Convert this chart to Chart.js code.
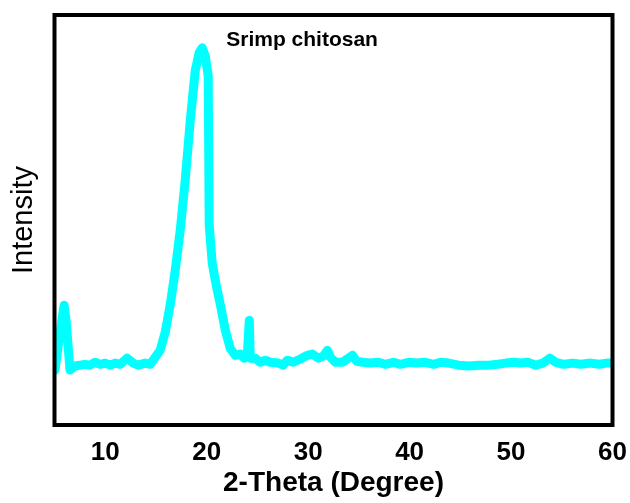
<!DOCTYPE html>
<html>
<head>
<meta charset="utf-8">
<script src="https://cdn.jsdelivr.net/npm/chart.js@4.4.1/dist/chart.umd.min.js"></script>
<style>
  html, body { margin: 0; padding: 0; background: #fff; }
  #wrap { width: 630px; height: 503px; }
</style>
</head>
<body>
<div id="wrap"><canvas id="xrd"></canvas></div>
<script>
// XRD pattern (intensity in arbitrary units, 0-100)
const twoTheta = [5.05, 5.44, 5.94, 6.14, 6.53, 7.02, 7.52, 8.01, 8.5, 9.0, 9.49, 9.99, 10.48, 10.97, 11.47,
    12.16, 12.75, 13.24, 13.93, 14.43, 14.92, 15.41, 15.91, 16.4, 16.9, 17.39, 17.88, 18.38, 18.87, 19.26,
    19.56, 19.86, 20.15, 20.25, 20.55, 20.94, 21.36, 21.84, 22.32, 22.82, 23.31, 23.7, 24.0, 24.2, 24.3,
    24.79, 25.28, 25.78, 26.27, 27.06, 27.55, 27.95, 28.54, 29.23, 29.92, 30.42, 31.0, 31.5, 31.9, 32.2,
    32.69, 33.38, 33.97, 34.37, 34.76, 35.36, 36.14, 36.93, 37.62, 38.41, 39.1, 39.9, 40.68, 41.57, 42.37,
    43.06, 43.85, 44.83, 45.82, 46.81, 47.8, 48.69, 49.48, 50.27, 50.96, 51.65, 52.45, 53.14, 53.83, 54.41,
    55.2, 56.09, 56.88, 57.86, 58.65, 59.44, 59.94];
const intensity = [13.4, 20.7, 29.2, 25.5, 13.4, 14.4, 14.6, 14.8, 14.6, 15.3, 14.8, 15.1, 14.6, 15.1, 14.8,
    16.3, 15.1, 14.6, 15.1, 14.8, 16.5, 18.2, 22.6, 29.2, 37.7, 47.4, 59.6, 74.2, 86.4, 90.8,
    92.0, 90.0, 85.2, 48.7, 39.4, 34.1, 29.2, 23.1, 18.7, 17.0, 17.3, 16.3, 16.8, 25.5, 16.3,
    16.3, 15.3, 15.8, 15.3, 15.1, 14.6, 15.8, 15.3, 16.1, 17.0, 17.3, 16.3, 16.8, 18.2, 16.5,
    15.3, 15.3, 16.3, 17.0, 15.6, 15.3, 15.1, 15.3, 14.8, 15.3, 14.8, 15.3, 15.1, 15.3, 14.8,
    15.3, 15.1, 14.6, 14.4, 14.6, 14.6, 14.8, 15.1, 15.3, 15.1, 15.3, 14.6, 15.1, 16.3, 15.3,
    14.8, 15.1, 14.8, 15.1, 14.8, 15.1, 15.1];
const xTicks = [10, 20, 30, 40, 50, 60];
const sampleLabel = 'Srimp chitosan';
const sampleLabelAt = [29.4, 93.9];

const FONT = "'Liberation Sans', Arial, sans-serif";

// black box round the plot area + the sample name
const framePlugin = {
    id: 'frame',
    afterDatasetsDraw(chart) {
        const { ctx, chartArea: a, scales } = chart;
        ctx.save();
        ctx.strokeStyle = '#000';
        ctx.lineWidth = 4;
        ctx.strokeRect(a.left, a.top, a.right - a.left, a.bottom - a.top);
        ctx.fillStyle = '#000';
        ctx.font = 'bold 21px ' + FONT;
        ctx.textAlign = 'center';
        ctx.textBaseline = 'middle';
        ctx.fillText(sampleLabel, scales.x.getPixelForValue(sampleLabelAt[0]), scales.y.getPixelForValue(sampleLabelAt[1]));
        ctx.restore();
    }
};

new Chart(document.getElementById('xrd'), {
    type: 'line',
    data: {
        datasets: [{
            label: sampleLabel,
            data: twoTheta.map((t, i) => ({ x: t, y: intensity[i] })),
            borderColor: '#00ffff',
            borderWidth: 9,
            borderJoinStyle: 'round',
            borderCapStyle: 'round',
            pointRadius: 0,
            tension: 0,
            fill: false
        }]
    },
    options: {
        responsive: true,
        maintainAspectRatio: false,
        animation: false,
        layout: { padding: { top: 15, right: 17.5, left: 0, bottom: 0 } },
        plugins: {
            legend: { display: false },
            tooltip: { enabled: false }
        },
        scales: {
            x: {
                type: 'linear',
                min: 5,
                max: 60,
                afterBuildTicks: (scale) => { scale.ticks = xTicks.map(v => ({ value: v })); },
                afterFit: (scale) => {
                    scale.height = 78;
                    scale.paddingLeft = 0;
                    scale.paddingRight = 0;
                },
                grid: { display: false, drawTicks: false },
                border: { display: false },
                ticks: { color: '#000', padding: 12, font: { family: FONT, size: 26, weight: 'bold' } },
                title: {
                    display: true,
                    text: '2-Theta (Degree)',
                    color: '#000',
                    padding: { top: 0, bottom: 3 },
                    font: { family: FONT, size: 28, weight: 'bold' }
                }
            },
            y: {
                min: 0,
                max: 100,
                afterFit: (scale) => { scale.width = 54.5; },
                grid: { display: false, drawTicks: false },
                border: { display: false },
                ticks: { display: false },
                title: {
                    display: true,
                    text: 'Intensity',
                    color: '#000',
                    padding: { top: 7, bottom: 0 },
                    font: { family: FONT, size: 29, weight: 'normal' }
                }
            }
        }
    },
    plugins: [framePlugin]
});
</script>
</body>
</html>
